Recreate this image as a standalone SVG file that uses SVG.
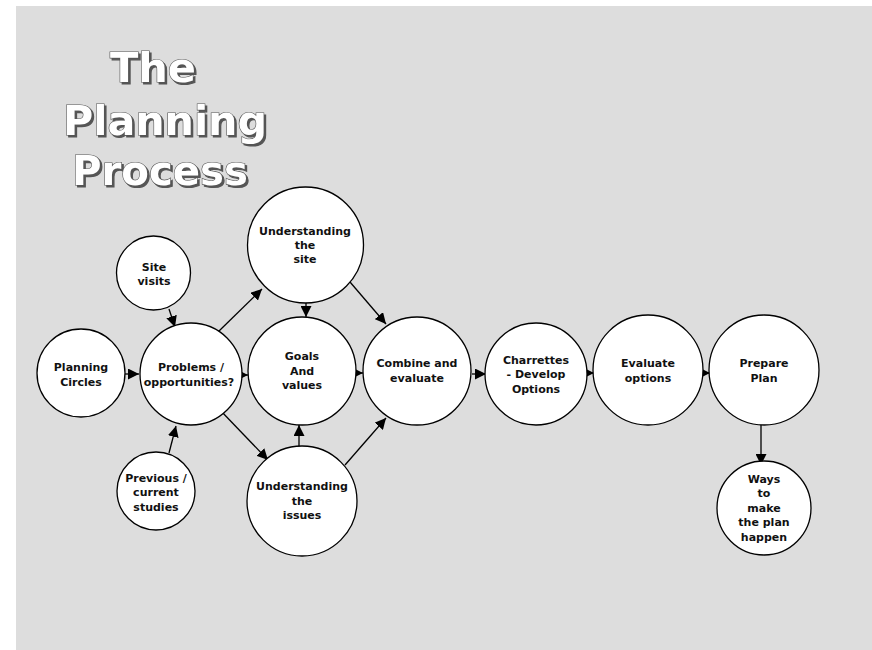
<svg xmlns="http://www.w3.org/2000/svg" width="872" height="650" viewBox="0 0 872 650">
<defs>
<marker id="ah" viewBox="0 0 10 10" refX="10" refY="5" markerWidth="11" markerHeight="11" markerUnits="userSpaceOnUse" orient="auto">
<path d="M0,0 L10,5 L0,10 z" fill="#000"/>
</marker>
<filter id="sh" x="-10%" y="-10%" width="130%" height="130%">
<feDropShadow dx="2" dy="2" stdDeviation="0.4" flood-color="#555" flood-opacity="1"/>
</filter>
<style>
.n circle{fill:#fff;stroke:#000;stroke-width:1.3}
.n text{font-family:"DejaVu Sans",Verdana,sans-serif;font-size:11px;font-weight:bold;fill:#111;text-anchor:middle}
.c line{stroke:#000;stroke-width:1.3;marker-end:url(#ah)}
.t{font-family:"DejaVu Sans",Verdana,sans-serif;font-size:40px;font-weight:bold;fill:#fff;stroke:#555;stroke-width:1.2;paint-order:stroke;filter:url(#sh)}
</style>
</defs>
<rect x="0" y="0" width="872" height="650" fill="#fff"/>
<rect x="16" y="6" width="856" height="644" fill="#dddddd"/>
<g id="title">
<text class="t" x="110" y="82" textLength="86" lengthAdjust="spacingAndGlyphs">The</text>
<text class="t" x="63" y="135" textLength="204" lengthAdjust="spacingAndGlyphs">Planning</text>
<text class="t" x="72" y="185" textLength="176" lengthAdjust="spacingAndGlyphs">Process</text>
</g>
<g id="connectors" class="c">
<line x1="125" y1="374" x2="139" y2="374"/>
<line x1="169" y1="309" x2="175" y2="327"/>
<line x1="169" y1="453" x2="176" y2="426"/>
<line x1="218" y1="332" x2="262" y2="289"/>
<line x1="232" y1="375" x2="248" y2="375"/>
<line x1="220" y1="410" x2="268" y2="460"/>
<line x1="306" y1="302" x2="306" y2="317"/>
<line x1="350" y1="282" x2="386" y2="324"/>
<line x1="348" y1="373" x2="363" y2="373"/>
<line x1="299" y1="447" x2="299" y2="425"/>
<line x1="345" y1="465" x2="386" y2="418"/>
<line x1="472" y1="374" x2="486" y2="374"/>
<line x1="580" y1="373" x2="594" y2="373"/>
<line x1="695" y1="373" x2="710" y2="373"/>
<line x1="761" y1="418" x2="761" y2="465"/>
</g>
<g id="planning-circles" class="n"><circle cx="81" cy="373" r="44"/><text x="81" y="371">Planning</text><text x="81" y="386">Circles</text></g>
<g id="site-visits" class="n"><circle cx="153.5" cy="273" r="37"/><text x="154" y="271">Site</text><text x="154" y="285">visits</text></g>
<g id="problems" class="n"><circle cx="191" cy="374" r="51"/><text x="191" y="371">Problems /</text><text x="189" y="386">opportunities?</text></g>
<g id="previous" class="n"><circle cx="156" cy="491" r="39"/><text x="156" y="482">Previous /</text><text x="156" y="496">current</text><text x="156" y="511">studies</text></g>
<g id="understanding-site" class="n"><circle cx="305.5" cy="245" r="58"/><text x="305" y="235">Understanding</text><text x="305" y="249">the</text><text x="305" y="263">site</text></g>
<g id="goals" class="n"><circle cx="302" cy="371" r="54"/><text x="302" y="360">Goals</text><text x="302" y="375">And</text><text x="302" y="389">values</text></g>
<g id="combine" class="n"><circle cx="417" cy="371" r="54"/><text x="417" y="367">Combine and</text><text x="417" y="382">evaluate</text></g>
<g id="understanding-issues" class="n"><circle cx="302" cy="501" r="55"/><text x="302" y="490">Understanding</text><text x="302" y="505">the</text><text x="302" y="519">issues</text></g>
<g id="charrettes" class="n"><circle cx="536" cy="374" r="51"/><text x="536" y="364">Charrettes</text><text x="536" y="378">- Develop</text><text x="536" y="393">Options</text></g>
<g id="evaluate" class="n"><circle cx="648" cy="370" r="55"/><text x="648" y="367">Evaluate</text><text x="648" y="382">options</text></g>
<g id="prepare" class="n"><circle cx="764" cy="370" r="55"/><text x="764" y="367">Prepare</text><text x="764" y="382">Plan</text></g>
<g id="ways" class="n"><circle cx="764" cy="508" r="47"/><text x="764" y="483">Ways</text><text x="764" y="497">to</text><text x="764" y="512">make</text><text x="764" y="526">the plan</text><text x="764" y="541">happen</text></g>
</svg>
